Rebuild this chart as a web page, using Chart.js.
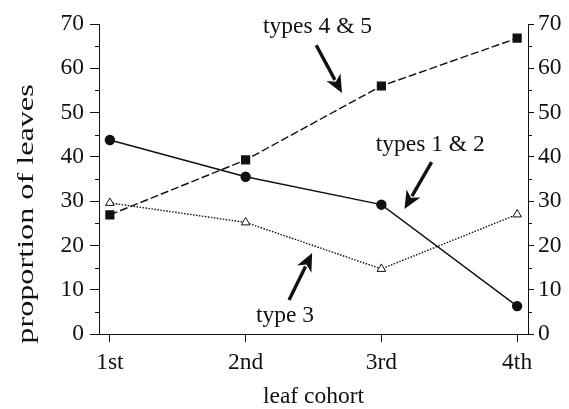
<!DOCTYPE html>
<html>
<head>
<meta charset="utf-8">
<script src="https://cdn.jsdelivr.net/npm/chart.js@4"></script>
<style>
  body { margin: 0; background: #fff; }
  canvas { display: block; }
</style>
</head>
<body>
<canvas id="chart-area" width="569" height="409"></canvas>
<script>
  'use strict';

  // leaf cohorts along the x axis
  var cohorts = ['1st', '2nd', '3rd', '4th'];

  // proportion of leaves per leaf type group
  var types12 = [43.8, 35.5, 29.2, 6.3];
  var types45 = [26.9, 39.3, 56.0, 66.8];
  var type3 = [29.6, 25.2, 14.7, 27.0];

  var yTicks = [0, 10, 20, 30, 40, 50, 60, 70];
  var yMinorTicks = [5, 15, 25, 35, 45, 55, 65];

  // labels with arrows, in data units [x, y]
  var notes = [
    { text: 'types 4 & 5', at: [1.53, 69.4], from: [1.52, 65.2], to: [1.71, 54.4] },
    { text: 'types 1 & 2', at: [2.36, 42.7], from: [2.37, 38.8], to: [2.17, 28.2] },
    { text: 'type 3', at: [1.29, 4.2], from: [1.32, 7.7], to: [1.49, 18.3] }
  ];
  var yTitle = 'proportion of leaves';

  var serif = 'Liberation Serif';
  var ink = '#111';
  var fontSize = 23.5;

  function points(values) {
    return values.map(function (v, i) { return { x: i, y: v }; });
  }

  var minorTicks = {
    id: 'minorTicks',
    afterDraw: function (chart) {
      var ctx = chart.ctx;
      var left = chart.scales.y;
      var right = chart.scales.y2;
      ctx.save();
      ctx.strokeStyle = ink;
      ctx.lineWidth = 1;
      yMinorTicks.forEach(function (v) {
        var py = Math.round(left.getPixelForValue(v)) + 0.5;
        ctx.beginPath();
        ctx.moveTo(left.right - 4, py);
        ctx.lineTo(left.right, py);
        ctx.moveTo(right.left, py);
        ctx.lineTo(right.left + 4, py);
        ctx.stroke();
      });
      ctx.restore();
    }
  };

  // y title is drawn by hand: the original lettering is stretched along its length
  var stretchedTitle = {
    id: 'stretchedTitle',
    afterDraw: function (chart) {
      var ctx = chart.ctx;
      var a = chart.chartArea;
      ctx.save();
      ctx.translate(27, a.bottom - 120);
      ctx.rotate(-Math.PI / 2);
      ctx.scale(1.4, 1);
      ctx.fillStyle = ink;
      ctx.font = '23px "' + serif + '"';
      ctx.textAlign = 'center';
      ctx.textBaseline = 'middle';
      ctx.fillText(yTitle, 0, 0);
      ctx.restore();
    }
  };

  var arrowNotes = {
    id: 'arrowNotes',
    afterDraw: function (chart) {
      var ctx = chart.ctx;
      var xs = chart.scales.x;
      var ys = chart.scales.y;
      ctx.save();
      ctx.fillStyle = ink;
      ctx.strokeStyle = ink;
      ctx.font = fontSize + 'px "' + serif + '"';
      ctx.textAlign = 'center';
      ctx.textBaseline = 'middle';
      notes.forEach(function (n) {
        ctx.fillText(n.text, xs.getPixelForValue(n.at[0]), ys.getPixelForValue(n.at[1]));
        var x1 = xs.getPixelForValue(n.from[0]);
        var y1 = ys.getPixelForValue(n.from[1]);
        var x2 = xs.getPixelForValue(n.to[0]);
        var y2 = ys.getPixelForValue(n.to[1]);
        var a = Math.atan2(y2 - y1, x2 - x1);
        var head = 18;
        var half = 8;
        var bx = x2 - head * Math.cos(a);
        var by = y2 - head * Math.sin(a);
        ctx.lineWidth = 3.4;
        ctx.beginPath();
        ctx.moveTo(x1, y1);
        ctx.lineTo(bx + 3 * Math.cos(a), by + 3 * Math.sin(a));
        ctx.stroke();
        ctx.beginPath();
        ctx.moveTo(x2, y2);
        ctx.lineTo(bx - half * Math.sin(a), by + half * Math.cos(a));
        ctx.lineTo(bx + 5 * Math.cos(a), by + 5 * Math.sin(a));
        ctx.lineTo(bx + half * Math.sin(a), by - half * Math.cos(a));
        ctx.closePath();
        ctx.fill();
      });
      ctx.restore();
    }
  };

  function yAxis(position, width, tickLen, pad) {
    return {
      type: 'linear',
      position: position,
      min: 0,
      max: 70,
      afterBuildTicks: function (scale) {
        scale.ticks = yTicks.map(function (v) { return { value: v }; });
      },
      afterFit: function (scale) { scale.width = width; },
      border: { display: true, color: ink, width: 1 },
      grid: { drawOnChartArea: false, drawTicks: true, tickLength: tickLen, color: ink },
      ticks: { color: ink, padding: pad, font: { family: serif, size: fontSize } }
    };
  }

  var ctx = document.getElementById('chart-area').getContext('2d');
  window.leafChart = new Chart(ctx, {
    type: 'line',
    data: {
      datasets: [
        {
          label: 'types 1 & 2',
          data: points(types12),
          borderColor: ink,
          borderWidth: 1.4,
          pointStyle: 'circle',
          pointRadius: 4.5,
          pointBackgroundColor: ink,
          pointBorderColor: ink
        },
        {
          label: 'types 4 & 5',
          data: points(types45),
          borderColor: ink,
          borderWidth: 1.4,
          borderDash: [8, 3],
          pointStyle: 'rect',
          pointRadius: 5.5,
          pointBackgroundColor: ink,
          pointBorderColor: ink
        },
        {
          label: 'type 3',
          data: points(type3),
          borderColor: ink,
          borderWidth: 1.4,
          borderDash: [1.5, 1.5],
          pointStyle: 'triangle',
          pointRadius: 5,
          pointBorderWidth: 1,
          pointBackgroundColor: '#fff',
          pointBorderColor: ink
        }
      ]
    },
    options: {
      responsive: false,
      animation: false,
      devicePixelRatio: 1,
      layout: { padding: { top: 24, left: 0, right: 0, bottom: 0 } },
      plugins: {
        legend: { display: false },
        tooltip: { enabled: false }
      },
      scales: {
        x: {
          type: 'linear',
          min: -0.08,
          max: 3.08,
          afterBuildTicks: function (scale) {
            scale.ticks = cohorts.map(function (c, i) { return { value: i }; });
          },
          afterFit: function (scale) { scale.height = 75; },
          border: { display: true, color: ink, width: 1 },
          grid: { drawOnChartArea: false, drawTicks: true, tickLength: 8, color: ink },
          ticks: {
            color: ink,
            padding: 7,
            maxRotation: 0,
            font: { family: serif, size: fontSize },
            callback: function (v) { return cohorts[v]; }
          },
          title: {
            display: true,
            text: 'leaf cohort',
            color: ink,
            font: { family: serif, size: fontSize, lineHeight: 1 },
            padding: { top: 0, bottom: 0 }
          }
        },
        y: yAxis('left', 99, 9, 6),
        y2: yAxis('right', 41, 6, 4)
      }
    },
    plugins: [minorTicks, stretchedTitle, arrowNotes]
  });
</script>
</body>
</html>
